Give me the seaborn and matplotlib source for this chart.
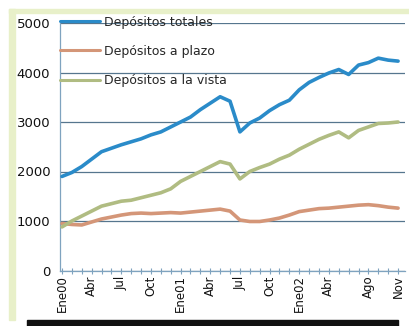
import numpy as np
import pandas as pd
import matplotlib
matplotlib.use("Agg")
import matplotlib.pyplot as plt
from matplotlib.patches import Rectangle
import seaborn as sns

# Monthly deposits, Jan 2000 - Nov 2002
meses = pd.period_range("2000-01", "2002-11", freq="M")

totales = [1900, 1980, 2100, 2250, 2400, 2470, 2540, 2600, 2660, 2740, 2800, 2900,
           3000, 3100, 3250, 3380, 3510, 3420, 2800, 2980, 3080, 3230, 3350, 3440,
           3650, 3800, 3900, 3990, 4060, 3960, 4150, 4200, 4290, 4250, 4230]
plazo = [950, 930, 920, 980, 1040, 1080, 1120, 1150, 1160, 1150, 1160, 1170,
         1160, 1180, 1200, 1220, 1240, 1200, 1020, 990, 990, 1020, 1060, 1120,
         1190, 1220, 1250, 1260, 1280, 1300, 1320, 1330, 1310, 1280, 1260]
vista = [880, 1000, 1100, 1200, 1300, 1350, 1400, 1420, 1470, 1520, 1570, 1650,
         1800, 1900, 2000, 2100, 2200, 2150, 1850, 2000, 2080, 2150, 2250, 2330,
         2450, 2550, 2650, 2730, 2800, 2680, 2830, 2900, 2970, 2980, 3000]

series = ["Depósitos totales", "Depósitos a plazo", "Depósitos a la vista"]
colores = ["#2a8bc9", "#d49678", "#b0bc82"]

tick_pos = [0, 3, 6, 9, 12, 15, 18, 21, 24, 27, 31, 34]
tick_lab = ["Ene00", "Abr", "Jul", "Oct", "Ene01", "Abr", "Jul", "Oct",
            "Ene02", "Abr", "Ago", "Nov"]
y_ticks = [0, 1000, 2000, 3000, 4000, 5000]

n = len(meses)
df = pd.DataFrame({
    "mes": np.tile(np.arange(n), 3),
    "valor": totales + plazo + vista,
    "serie": np.repeat(series, n),
})

sns.set_theme(style="white")
plt.rcParams["font.family"] = ["DejaVu Sans"]

fig = plt.figure(figsize=(4.09, 3.26), dpi=100)
fig.patch.set_facecolor("white")

# page decoration: light green frame and dark strip at the bottom
W, H = 409, 326
green = "#e8f0c9"
fig.patches.append(Rectangle((9 / W, 1 - 13 / H), 1 - 9 / W, 4 / H,
                             transform=fig.transFigure, color=green, zorder=0))
fig.patches.append(Rectangle((9 / W, 1 - 320 / H), 6 / W, (320 - 9) / H,
                             transform=fig.transFigure, color=green, zorder=0))
fig.patches.append(Rectangle((27 / W, 0), (398 - 27) / W, 6 / H,
                             transform=fig.transFigure, color="#111111", zorder=0))

ax = fig.add_axes([60 / W, 1 - 270.5 / H, (405 - 60) / W, (270.5 - 23) / H])
ax.set_facecolor("none")

sns.lineplot(data=df, x="mes", y="valor", hue="serie", hue_order=series,
             palette=colores, linewidth=2.6, ax=ax, zorder=3)

ax.set_xlim(-0.2, 34.7)
ax.set_ylim(0, 5000)
ax.set_yticks(y_ticks)
ax.set_yticklabels([str(v) for v in y_ticks], fontsize=9.5)
ax.set_xticks(tick_pos)
ax.set_xticklabels(tick_lab, rotation=90, fontsize=8.5)
ax.set_xticks(np.arange(n), minor=True)
ax.set_xlabel("")
ax.set_ylabel("")

ax.yaxis.grid(True, color="#56768e", linewidth=0.9)
ax.set_axisbelow(True)
for s in ["top", "right"]:
    ax.spines[s].set_visible(False)
for s in ["left", "bottom"]:
    ax.spines[s].set_color("#7fa3bf")
    ax.spines[s].set_linewidth(0.9)

ax.tick_params(axis="x", which="both", direction="inout", length=4,
               color="#7fa3bf", width=0.8, bottom=True, pad=1.5)
ax.tick_params(axis="y", length=0, pad=7)
for lbl in ax.get_xticklabels() + ax.get_yticklabels():
    lbl.set_color("#111111")

leg = ax.legend(loc="upper left", bbox_to_anchor=(0.0, 1.03), frameon=False,
                fontsize=9, handlelength=3.2, handletextpad=0.3,
                labelspacing=1.3, borderaxespad=0, borderpad=0)
for line in leg.get_lines():
    line.set_linewidth(2.2)

fig.savefig("out.png", dpi=100, facecolor=fig.get_facecolor())
